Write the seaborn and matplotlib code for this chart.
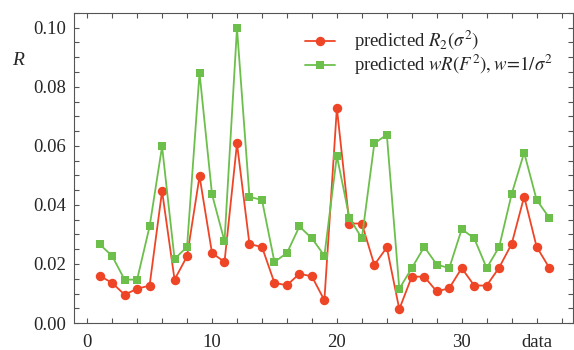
import numpy as np
import pandas as pd
import matplotlib
matplotlib.use("Agg")
import matplotlib.pyplot as plt
import seaborn as sns
from matplotlib.ticker import MultipleLocator

# ---- data ----
data_index = list(range(1, 38))
r2_sigma = [0.016, 0.0136, 0.0096, 0.0116, 0.0127, 0.0447, 0.0147, 0.0226, 0.0497, 0.0237,
            0.0207, 0.0608, 0.0267, 0.0258, 0.0136, 0.0128, 0.0167, 0.0158, 0.0077, 0.0728,
            0.0337, 0.0337, 0.0197, 0.0256, 0.0047, 0.0157, 0.0157, 0.0107, 0.0118, 0.0186,
            0.0127, 0.0127, 0.0188, 0.0268, 0.0428, 0.0258, 0.0188]
wr_f2 = [0.0267, 0.0227, 0.0147, 0.0147, 0.0327, 0.0598, 0.0217, 0.0258, 0.0847, 0.0436,
         0.0277, 0.0998, 0.0427, 0.0417, 0.0207, 0.0237, 0.0327, 0.0287, 0.0228, 0.0566,
         0.0357, 0.0287, 0.0608, 0.0638, 0.0116, 0.0186, 0.0258, 0.0198, 0.0186, 0.0318,
         0.0287, 0.0186, 0.0258, 0.0437, 0.0577, 0.0417, 0.0357]
label_r2 = r'predicted $R_2(\sigma^2)$'
label_wr = r'predicted $wR(F^2), w\!=\!1/\sigma^2$'
xtick_vals = [0, 10, 20, 30, 36]
xtick_labels = ['0', '10', '20', '30', 'data']
ytick_vals = [0.00, 0.02, 0.04, 0.06, 0.08, 0.10]

df_r2 = pd.DataFrame({'data': data_index, 'R': r2_sigma})
df_wr = pd.DataFrame({'data': data_index, 'R': wr_f2})

sns.set_style("ticks")
plt.rcParams['font.family'] = ['Liberation Serif', 'DejaVu Serif']
plt.rcParams['mathtext.fontset'] = 'stix'

fig = plt.figure(figsize=(5.74, 3.5), dpi=100)
ax = fig.add_axes([0.129, 0.077, 0.869, 0.886])

red = '#EF4527'
green = '#6DBF4C'
sns.lineplot(data=df_r2, x='data', y='R', ax=ax, color=red, marker='o', markersize=6.8,
             markeredgewidth=0, linewidth=1.3, label=label_r2)
sns.lineplot(data=df_wr, x='data', y='R', ax=ax, color=green, marker='s', markersize=5.5,
             markeredgewidth=0, linewidth=1.3, label=label_wr)

ax.set_xlim(-1.05, 38.9)
ax.set_ylim(0, 0.105)
ax.set_xticks(xtick_vals)
ax.set_xticklabels(xtick_labels)
ax.set_yticks(ytick_vals)
ax.set_yticklabels([f'{v:.2f}' for v in ytick_vals])
ax.xaxis.set_minor_locator(MultipleLocator(2))
ax.yaxis.set_minor_locator(MultipleLocator(0.005))
ax.tick_params(which='both', direction='in', top=True, right=True, length=3.5,
               width=0.8, color='#555555', labelsize=13.5)
ax.tick_params(axis='x', pad=8)
ax.tick_params(axis='y', pad=6)
for s in ax.spines.values():
    s.set_color('#555555')
    s.set_linewidth(0.8)

ax.set_xlabel('')
ax.set_ylabel('R', rotation=0, fontsize=14, style='italic')
ax.yaxis.set_label_coords(-0.112, 0.82)

leg = ax.legend(loc='upper left', bbox_to_anchor=(0.448, 0.973), frameon=False,
                fontsize=13.5, handlelength=1.6, handletextpad=1.0, labelspacing=0.0,
                borderaxespad=0)

fig.savefig('out.png', dpi=100)
